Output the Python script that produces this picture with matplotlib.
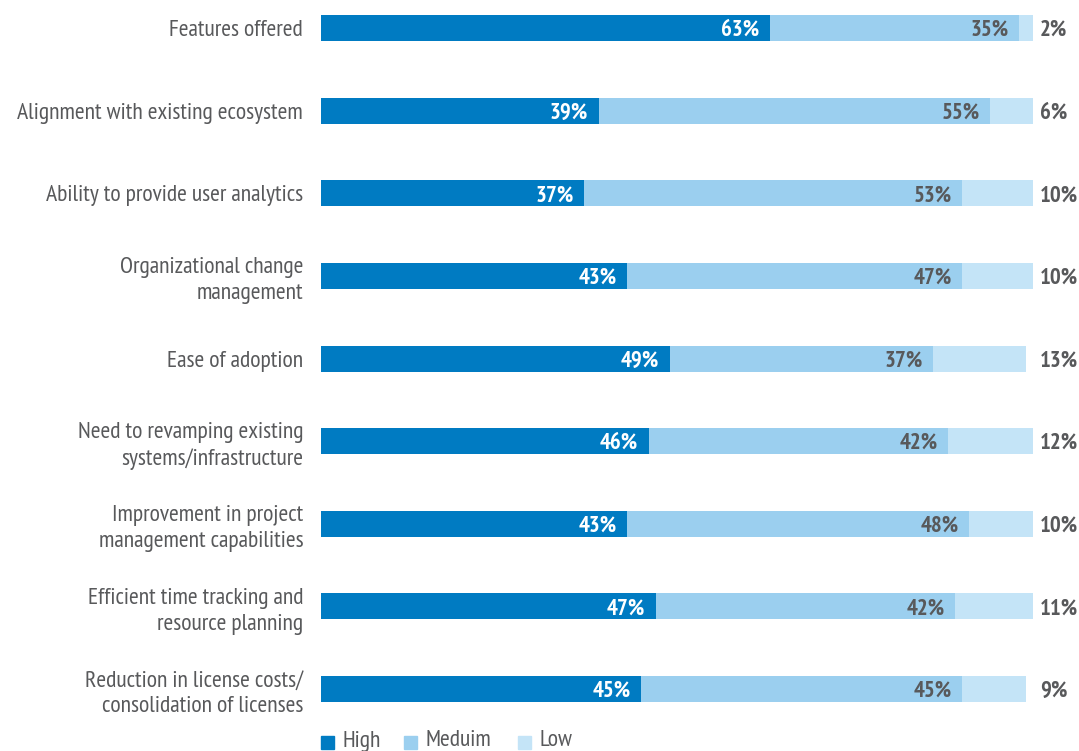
import numpy as np
import matplotlib.pyplot as plt
from matplotlib.patches import Rectangle

categories = [
    'Features offered',
    'Alignment with existing ecosystem',
    'Ability to provide user analytics',
    'Organizational change\nmanagement',
    'Ease of adoption',
    'Need to revamping existing\nsystems/infrastructure',
    'Improvement in project\nmanagement capabilities',
    'Efficient time tracking and\nresource planning',
    'Reduction in license costs/\nconsolidation of licenses',
]
high = [63, 39, 37, 43, 49, 46, 43, 47, 45]
medium = [35, 55, 53, 47, 37, 42, 48, 42, 45]
low = [2, 6, 10, 10, 13, 12, 10, 11, 9]
legend_labels = ['High', 'Meduim', 'Low']

C_HIGH = '#007bc2'
C_MED = '#9bcfef'
C_LOW = '#c4e4f7'
GREY = '#58595b'

plt.rcParams['font.family'] = ['PT Sans Narrow', 'Roboto Condensed', 'DejaVu Sans']

fig = plt.figure(figsize=(10.79, 7.51), dpi=100)
ax = fig.add_axes([0.2975, 0.0495, 0.6599, 0.9462])

y = np.arange(len(categories))
high = np.array(high)
medium = np.array(medium)
low = np.array(low)
h = 0.315

ax.barh(y, high, height=h, color=C_HIGH)
ax.barh(y, medium, left=high, height=h, color=C_MED)
ax.barh(y, low, left=high + medium, height=h, color=C_LOW)

for i in range(len(categories)):
    ax.text(high[i] - 1.5, y[i], f'{high[i]}%', ha='right', va='center_baseline',
            color='white', fontsize=16.5, fontweight='bold')
    ax.text(high[i] + medium[i] - 1.4, y[i], f'{medium[i]}%', ha='right',
            va='center_baseline', color=GREY, fontsize=16.5, fontweight='bold')
    ax.text(101.0, y[i], f'{low[i]}%', ha='left', va='center_baseline',
            color=GREY, fontsize=16.5, fontweight='bold', clip_on=False)
    ax.text(-2.5, y[i], categories[i], ha='right', va='center_baseline',
            color=GREY, fontsize=17, linespacing=1.3, clip_on=False)

ax.set_xlim(0, 100)
ax.set_ylim(8.3, -0.3)
ax.axis('off')

# legend row along the bottom edge
lx = [0, 11.6, 27.6]
for x0, lab, col in zip(lx, legend_labels, [C_HIGH, C_MED, C_LOW]):
    fig.patches.append(Rectangle((321 / 1079 + x0 * 7.12 / 1079, 2.5 / 751), 13 / 1079, 13 / 751,
                                 transform=fig.transFigure, color=col))
    fig.text((343 + x0 * 7.12) / 1079, 4.5 / 751, lab, ha='left', va='baseline',
             color=GREY, fontsize=17)

fig.savefig('out.png', dpi=100)
